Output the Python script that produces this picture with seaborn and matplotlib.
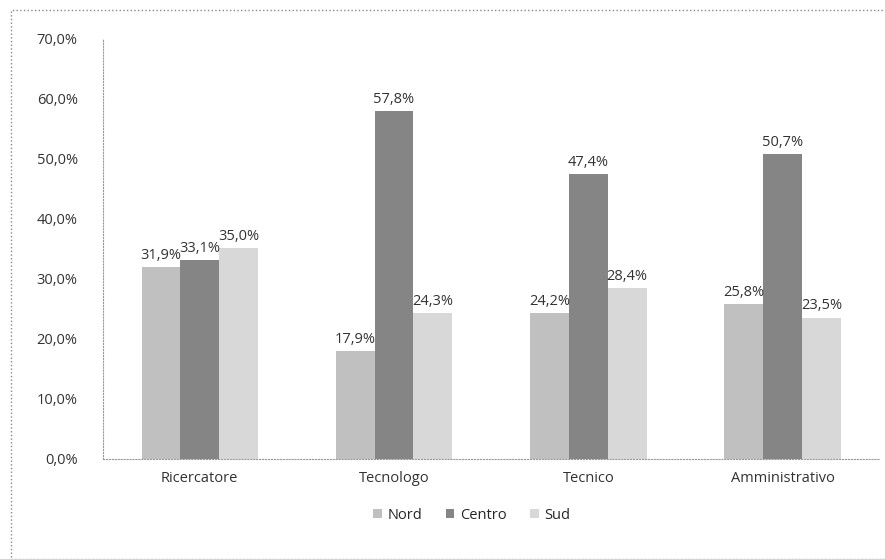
import pandas as pd
import matplotlib.pyplot as plt
import seaborn as sns

categorie = ['Ricercatore', 'Tecnologo', 'Tecnico', 'Amministrativo']
aree = ['Nord', 'Centro', 'Sud']
nord = [31.9, 17.9, 24.2, 25.8]
centro = [33.1, 57.8, 47.4, 50.7]
sud = [35.0, 24.3, 28.4, 23.5]

df = pd.DataFrame({
    'categoria': categorie * 3,
    'area': ['Nord'] * 4 + ['Centro'] * 4 + ['Sud'] * 4,
    'valore': nord + centro + sud,
})

sns.set_style('white')
plt.rcParams['font.family'] = ['Open Sans', 'DejaVu Sans']

palette = {'Nord': '#c0c0c0', 'Centro': '#858585', 'Sud': '#d8d8d8'}

fig = plt.figure(figsize=(8.85, 5.59), dpi=100)
ax = fig.add_axes([0.116, 0.179, 0.878, 0.753])
sns.barplot(data=df, x='categoria', y='valore', hue='area', hue_order=aree,
            palette=palette, width=0.6, gap=0, ax=ax, saturation=1, linewidth=0)

for cont in ax.containers:
    ax.bar_label(cont, labels=[f'{v:.1f}%'.replace('.', ',') for v in cont.datavalues],
                 padding=3, fontsize=10.5, color='#333333')

ax.set_ylim(0, 70)
ax.set_yticks(range(0, 71, 10))
ax.set_yticklabels([f'{v:.1f}%'.replace('.', ',') for v in range(0, 71, 10)])
ax.tick_params(axis='y', labelsize=10.5, colors='#333333', length=0, pad=18)
ax.tick_params(axis='x', labelsize=10.5, colors='#333333', length=0, pad=9)
ax.set_xlabel('')
ax.set_ylabel('')
for s in ['top', 'right']:
    ax.spines[s].set_visible(False)
for s in ['left', 'bottom']:
    ax.spines[s].set_color('#999999')
    ax.spines[s].set_linestyle(':')

ax.legend(loc='upper center', bbox_to_anchor=(0.475, -0.085), ncol=3, frameon=False,
          fontsize=10.5, handlelength=0.6, handleheight=0.6, columnspacing=1.6,
          handletextpad=0.4)

# cornice tratteggiata del grafico
fig.add_artist(plt.Rectangle((0.012, 0.0), 0.99, 0.982, transform=fig.transFigure,
                             fill=False, edgecolor='#888888', linestyle=':', linewidth=1))

fig.savefig('out.png', dpi=100)
